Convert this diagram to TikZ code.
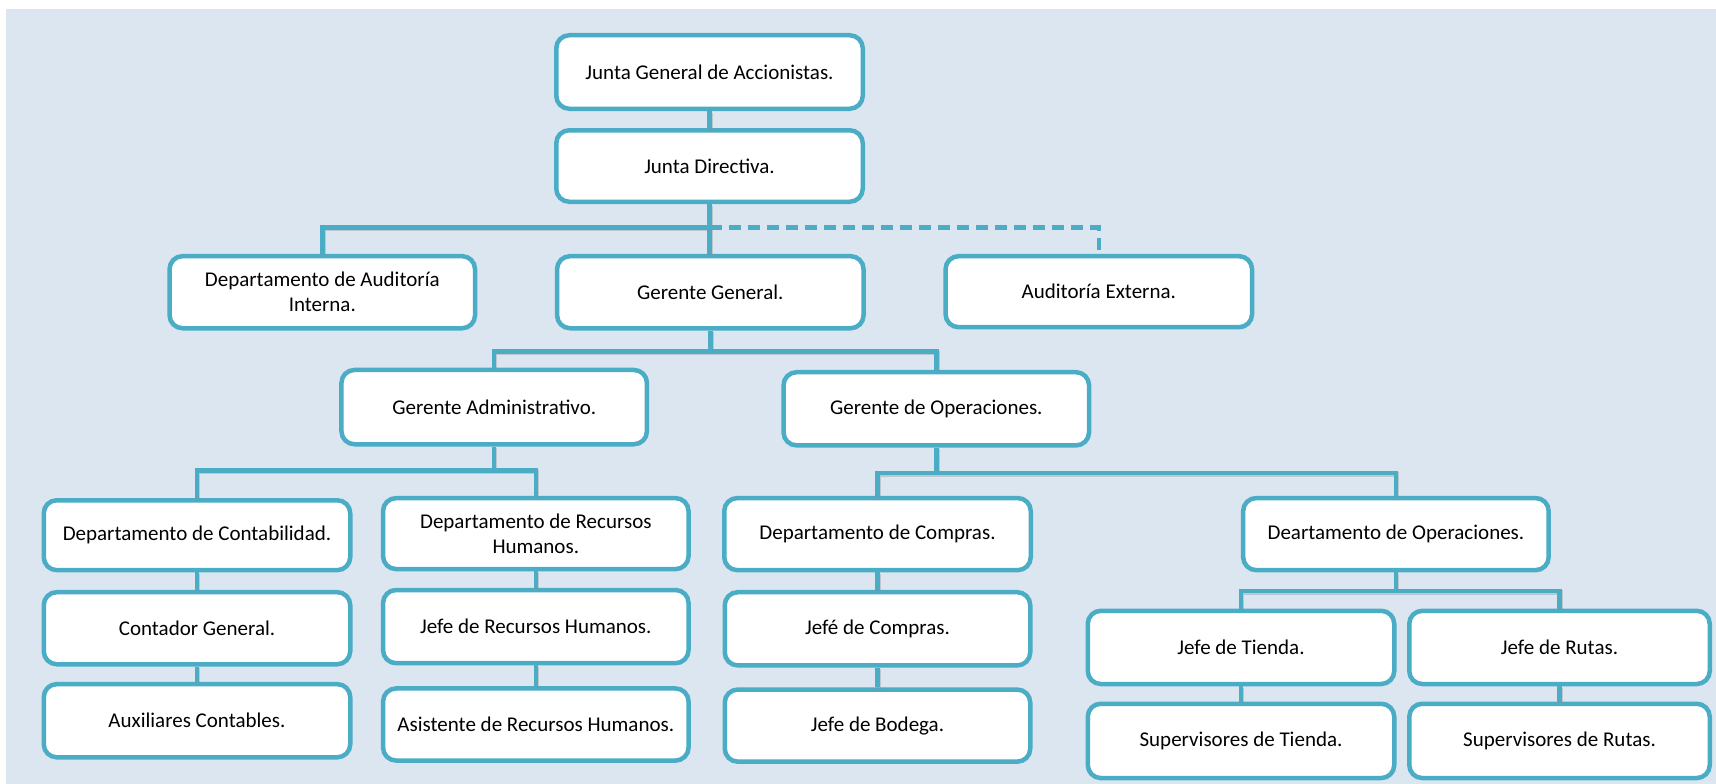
\documentclass[tikz,border=0pt]{standalone}
\usepackage{fontspec}
\setmainfont{Carlito}
\definecolor{teal5}{HTML}{4BACC6}
\definecolor{bgblue}{HTML}{DCE6F1}
\tikzset{
  orgbox/.style={draw=teal5, line width=4.5pt, rounded corners=13pt, fill=white,
    inner sep=0pt, align=center, font=\fontsize{21}{25}\selectfont},
  conn/.style={draw=teal5, line width=4.5pt,
    preaction={draw=black!45, opacity=0.35, line width=4.5pt, transform canvas={xshift=1pt,yshift=-1.5pt}}},
  dconn/.style={draw=teal5, line width=4.5pt, dash pattern=on 12pt off 7pt}
}
\newcommand{\orgnode}[6]{\node[orgbox, minimum width=#4pt-4.5pt, minimum height=#5pt-4.5pt] (#1) at (#2,#3) {#6};}
\begin{document}
\begin{tikzpicture}[x=1pt,y=-1pt]
\useasboundingbox (0,0) rectangle (1716,784);
\fill[white] (0,0) rectangle (1716,784);
\fill[bgblue] (6,9) rectangle (1716,784);
% nodes: name, cx, cy, w, h, text
\orgnode{jga}{709.5}{72}{311}{78}{Junta General de Accionistas.}
\orgnode{jd}{709.5}{166}{311}{76}{Junta Directiva.}
\orgnode{dai}{322.3}{292.2}{310}{76.6}{Departamento de Auditoría\\Interna.}
\orgnode{gg}{710.3}{292.2}{311}{76.6}{Gerente General.}
\orgnode{ae}{1098.8}{291.7}{311}{75.5}{Auditoría Externa.}
\orgnode{ga}{494.2}{407.1}{310}{78.8}{Gerente Administrativo.}
\orgnode{go}{936.3}{408.8}{310}{77.7}{Gerente de Operaciones.}
\orgnode{dc}{197}{535.2}{311}{74.4}{Departamento de Contabilidad.}
\orgnode{drh}{535.8}{533.6}{310}{75.5}{Departamento de Recursos\\Humanos.}
\orgnode{dco}{877.5}{534.1}{311}{76.6}{Departamento de Compras.}
\orgnode{dop}{1395.9}{534.1}{310}{76.6}{Deartamento de Operaciones.}
\orgnode{cg}{197}{628.2}{311}{76.6}{Contador General.}
\orgnode{jrh}{535.8}{626.6}{310}{77.7}{Jefe de Recursos Humanos.}
\orgnode{jc}{877.5}{628.8}{310}{77.7}{Jefé de Compras.}
\orgnode{jt}{1241}{647.4}{311}{77.7}{Jefe de Tienda.}
\orgnode{jr}{1559.5}{647.4}{305}{77.7}{Jefe de Rutas.}
\orgnode{ac}{197}{720.7}{311}{77.7}{Auxiliares Contables.}
\orgnode{arh}{535.8}{724.5}{310}{76.6}{Asistente de Recursos Humanos.}
\orgnode{jb}{877.5}{725.6}{310}{76.6}{Jefe de Bodega.}
\orgnode{st}{1241}{740.9}{311}{78.8}{Supervisores de Tienda.}
\orgnode{sr}{1559.5}{740.9}{305}{78.8}{Supervisores de Rutas.}
% junction coordinates
\coordinate (b1) at (710.3,227.6);
\coordinate (b2) at (710.3,351.3);
\coordinate (b3) at (494.2,470.6);
\coordinate (b4) at (936.3,472.8);
\coordinate (b5) at (1395.9,591);
% connectors
\draw[conn] (jga.south) -- (jd.north);
\draw[conn] (jd.south) -- (jd.south |- gg.north);
\draw[conn] (dai.north) |- (b1);
\draw[dconn] (b1) -| (ae.north);
\draw[conn] (gg.south) -- (b2);
\draw[conn] (ga.north) |- (b2) -| (go.north);
\draw[conn] (ga.south) -- (b3);
\draw[conn] (dc.north) |- (b3) -| (drh.north);
\draw[conn] (go.south) -- (b4);
\draw[conn] (dco.north) |- (b4) -| (dop.north);
\draw[conn] (dop.south) -- (b5);
\draw[conn] (jt.north) |- (b5) -| (jr.north);
\draw[conn] (dc.south) -- (cg.north);
\draw[conn] (cg.south) -- (ac.north);
\draw[conn] (drh.south) -- (jrh.north);
\draw[conn] (jrh.south) -- (arh.north);
\draw[conn] (dco.south) -- (jc.north);
\draw[conn] (jc.south) -- (jb.north);
\draw[conn] (jt.south) -- (st.north);
\draw[conn] (jr.south) -- (sr.north);
\end{tikzpicture}
\end{document}
